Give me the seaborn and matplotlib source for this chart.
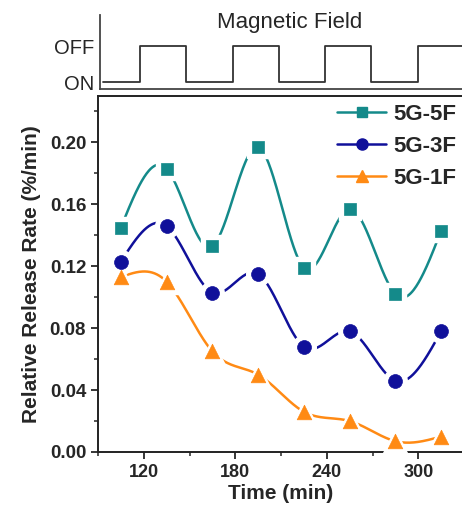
import numpy as np
import matplotlib
matplotlib.use("Agg")
import matplotlib.pyplot as plt
import seaborn as sns
from matplotlib.lines import Line2D
from matplotlib.ticker import MultipleLocator, FormatStrFormatter

# ---------------- data ----------------
time_min = [105, 135, 165, 195, 225, 255, 285, 315]
rate_5g5f = [0.145, 0.183, 0.133, 0.197, 0.119, 0.157, 0.102, 0.143]
rate_5g3f = [0.123, 0.146, 0.103, 0.115, 0.068, 0.078, 0.046, 0.078]
rate_5g1f = [0.113, 0.110, 0.065, 0.050, 0.026, 0.020, 0.007, 0.010]
series_names = ["5G-5F", "5G-3F", "5G-1F"]

field_times = [96, 120, 150, 180, 210, 240, 270, 300, 335]
field_state = [0, 1, 0, 1, 0, 1, 0, 1, 1]   # 0 = ON, 1 = OFF
field_labels = ["ON", "OFF"]

# ---------------- style ----------------
sns.set_style("ticks")
plt.rcParams["font.family"] = ["Liberation Sans", "DejaVu Sans"]

colors = ["#148a8a", "#10109a", "#ff8a14"]
markers = ["s", "o", "^"]
msizes = [8.5, 10, 10.5]


def natural_spline(x, y, n=400):
    x = np.asarray(x, float)
    y = np.asarray(y, float)
    k = len(x)
    h = np.diff(x)
    A = np.zeros((k, k))
    b = np.zeros(k)
    A[0, 0] = A[-1, -1] = 1
    for i in range(1, k - 1):
        A[i, i - 1] = h[i - 1]
        A[i, i] = 2 * (h[i - 1] + h[i])
        A[i, i + 1] = h[i]
        b[i] = 6 * ((y[i + 1] - y[i]) / h[i] - (y[i] - y[i - 1]) / h[i - 1])
    M = np.linalg.solve(A, b)
    xs = np.linspace(x[0], x[-1], n)
    idx = np.clip(np.searchsorted(x, xs) - 1, 0, k - 2)
    x0, x1 = x[idx], x[idx + 1]
    hh = x1 - x0
    ys = (M[idx] * (x1 - xs) ** 3 / (6 * hh) + M[idx + 1] * (xs - x0) ** 3 / (6 * hh)
          + (y[idx] / hh - M[idx] * hh / 6) * (x1 - xs)
          + (y[idx + 1] / hh - M[idx + 1] * hh / 6) * (xs - x0))
    return xs, ys


W, H = 462, 509
fig = plt.figure(figsize=(W / 100, H / 100), dpi=100)

# ---------------- main axes ----------------
ax = fig.add_axes([98 / W, 1 - 452 / H, 366 / W, (452 - 96) / H])
all_series = [rate_5g5f, rate_5g3f, rate_5g1f]
for vals, c, m, ms in zip(all_series, colors, markers, msizes):
    xs, ys = natural_spline(time_min, vals)
    sns.lineplot(x=xs, y=ys, ax=ax, color=c, lw=1.8, zorder=2, estimator=None, sort=False)
    ax.plot(time_min, vals, ls="none", marker=m, ms=ms + 7, color="white",
            mec="white", zorder=3)
    sns.scatterplot(x=time_min, y=vals, ax=ax, marker=m, s=(ms) ** 2, color=c,
                    edgecolor=c, linewidth=0.5, zorder=4)

ax.set_xlim(90, 330)
ax.set_ylim(0, 0.23)
ax.xaxis.set_major_locator(MultipleLocator(60))
ax.xaxis.set_minor_locator(MultipleLocator(30))
ax.yaxis.set_major_locator(MultipleLocator(0.04))
ax.yaxis.set_minor_locator(MultipleLocator(0.02))
ax.yaxis.set_major_formatter(FormatStrFormatter("%.2f"))
ax.tick_params(which="major", direction="out", length=5, width=1.3, labelsize=13)
ax.tick_params(axis="y", labelsize=13.5)
ax.tick_params(which="minor", direction="out", length=3, width=1.1)
for lab in ax.get_xticklabels() + ax.get_yticklabels():
    lab.set_fontweight("bold")
for s in ax.spines.values():
    s.set_linewidth(1.4)
    s.set_color("#222222")
ax.set_xlabel("Time (min)", fontsize=15, fontweight="bold", labelpad=2)
ax.set_ylabel("Relative Release Rate (%/min)", fontsize=15, fontweight="bold", labelpad=6)

handles = [Line2D([], [], color=c, marker=m, ms=ms * 0.8, lw=1.8)
           for c, m, ms in zip(colors, markers, msizes)]
leg = ax.legend(handles, series_names, loc="upper right", frameon=False,
                prop={"size": 16, "weight": "bold"}, handlelength=2.2,
                handletextpad=0.35, labelspacing=0.5,
                bbox_to_anchor=(1.035, 1.035))

# ---------------- magnetic field panel ----------------
ax2 = fig.add_axes([100 / W, 1 - 89 / H, 364 / W, 74 / H])
sns.lineplot(x=field_times, y=field_state, ax=ax2, drawstyle="steps-post",
             color="#333333", lw=1.3, estimator=None, sort=False)
ax2.set_xlim(94, 330)
ax2.set_ylim(-7 / 36, 1 + 31 / 36)
ax2.set_xticks([])
ax2.set_yticks([0, 1])
ax2.set_yticklabels(field_labels, fontsize=14.5)
ax2.tick_params(axis="y", length=0, pad=4)
ax2.spines["top"].set_visible(False)
ax2.spines["right"].set_visible(False)
for s in ["left", "bottom"]:
    ax2.spines[s].set_linewidth(1.3)
    ax2.spines[s].set_color("#444444")
ax2.text(0.52, 0.9, "Magnetic Field", transform=ax2.transAxes, ha="center",
         va="center", fontsize=16)
ax2.set_xlabel("")
ax2.set_ylabel("")

fig.savefig("out.png", dpi=100)
